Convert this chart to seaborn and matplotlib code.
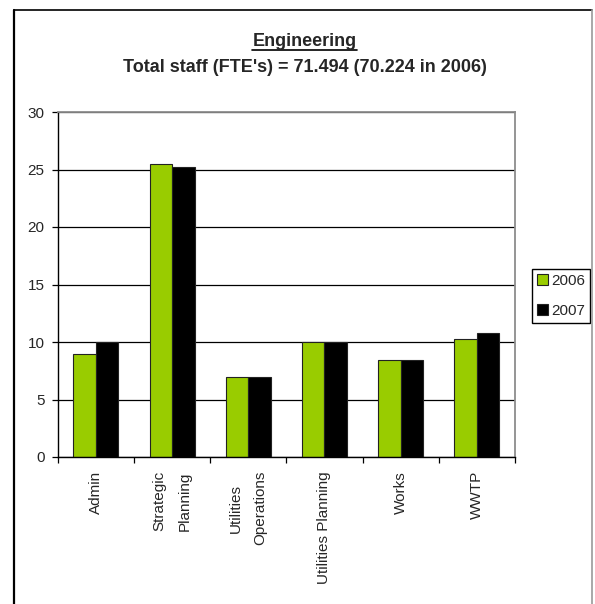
import matplotlib
matplotlib.use("Agg")
import matplotlib.pyplot as plt
import seaborn as sns
import pandas as pd
from matplotlib.lines import Line2D
from matplotlib.ticker import FixedLocator

# Staff (FTE) per section, two years
departments = ["Admin", "Strategic\nPlanning", "Utilities\nOperations",
               "Utilities Planning", "Works", "WWTP"]
staff_2006 = [8.95, 25.5, 6.95, 10.0, 8.45, 10.25]
staff_2007 = [10.0, 25.2, 6.95, 10.0, 8.45, 10.8]
years = ["2006", "2007"]
year_colors = ["#99CC00", "#000000"]
y_ticks = [0, 5, 10, 15, 20, 25, 30]

title_text = "Engineering"
subtitle_text = "Total staff (FTE's) = 71.494 (70.224 in 2006)"

sns.set_style("white")
plt.rcParams["font.family"] = ["Liberation Sans", "DejaVu Sans"]

df = pd.DataFrame({
    "Department": departments * 2,
    "Year": [years[0]] * len(departments) + [years[1]] * len(departments),
    "FTE": staff_2006 + staff_2007,
})

W, H = 595, 604
fig = plt.figure(figsize=(W / 100, H / 100), dpi=100)
fig.patch.set_facecolor("white")
ax = fig.add_axes([57.7 / W, 1 - 457 / H, (515 - 57.7) / W, (457 - 112) / H])

sns.barplot(data=df, x="Department", y="FTE", hue="Year", order=departments,
            hue_order=years, palette=year_colors, saturation=1, width=0.59,
            edgecolor="#222222", linewidth=0.8, ax=ax)

ax.set_xlim(-0.5, len(departments) - 0.5)
ax.set_ylim(0, 30)
ax.set_yticks(y_ticks)
ax.set_xlabel("")
ax.set_ylabel("")

# horizontal gridlines behind bars
ax.yaxis.grid(True, color="black", linewidth=0.9)
ax.xaxis.grid(False)
ax.set_axisbelow(True)

# spines: black axes, grey frame
for side in ("left", "bottom"):
    ax.spines[side].set_color("black")
    ax.spines[side].set_linewidth(1.0)
for side in ("top", "right"):
    ax.spines[side].set_color("#8c8c8c")
    ax.spines[side].set_linewidth(1.3)

# ticks
ax.tick_params(axis="y", direction="out", length=4.5, width=0.9, color="black",
               pad=5, labelsize=11, left=True)
ax.tick_params(axis="x", which="major", length=0, pad=10, labelsize=11)
ax.xaxis.set_minor_locator(FixedLocator([i - 0.5 for i in range(len(departments) + 1)]))
ax.tick_params(axis="x", which="minor", direction="out", length=4.5, width=0.9,
               color="black", bottom=True)
for lbl in ax.get_xticklabels():
    lbl.set_rotation(90)
    lbl.set_ha("center")
    lbl.set_va("top")
    lbl.set_multialignment("center")
    lbl.set_linespacing(2.0)

# legend at the right of the plot
handles, labels = ax.get_legend_handles_labels()
ax.legend(handles, labels, loc="upper left",
          bbox_to_anchor=(531.7 / W, 1 - 268.7 / H), bbox_transform=fig.transFigure,
          frameon=True, fancybox=False, edgecolor="black", framealpha=1,
          borderaxespad=0, borderpad=0.35, handlelength=0.7, handleheight=0.7,
          handletextpad=0.2, labelspacing=1.05, fontsize=11)
ax.get_legend().get_frame().set_linewidth(1.0)

# titles
t1 = fig.text(304.5 / W, 1 - 45.7 / H, title_text, ha="center", va="baseline",
              fontsize=13, fontweight="bold")
fig.text(305 / W, 1 - 71.7 / H, subtitle_text, ha="center", va="baseline",
         fontsize=13, fontweight="bold")

# underline the heading
fig.canvas.draw()
bb = t1.get_window_extent(renderer=fig.canvas.get_renderer())
inv = fig.transFigure.inverted()
(x0, y0), (x1, _) = inv.transform([(bb.x0, bb.y0), (bb.x1, bb.y1)])
fig.add_artist(Line2D([x0, x1], [y0 - 0.5 / H, y0 - 0.5 / H], color="black",
                      linewidth=1.2, transform=fig.transFigure))

# outer chart border
top_y = 1 - 9.5 / H
fig.add_artist(Line2D([13.5 / W, 592 / W], [top_y, top_y], color="black",
                      linewidth=1.2, transform=fig.transFigure))
fig.add_artist(Line2D([13.5 / W, 13.5 / W], [0, top_y], color="black",
                      linewidth=1.6, transform=fig.transFigure))
fig.add_artist(Line2D([592 / W, 592 / W], [0, top_y], color="#9a9a9a",
                      linewidth=1.2, transform=fig.transFigure))

fig.savefig("out.png", dpi=100)
